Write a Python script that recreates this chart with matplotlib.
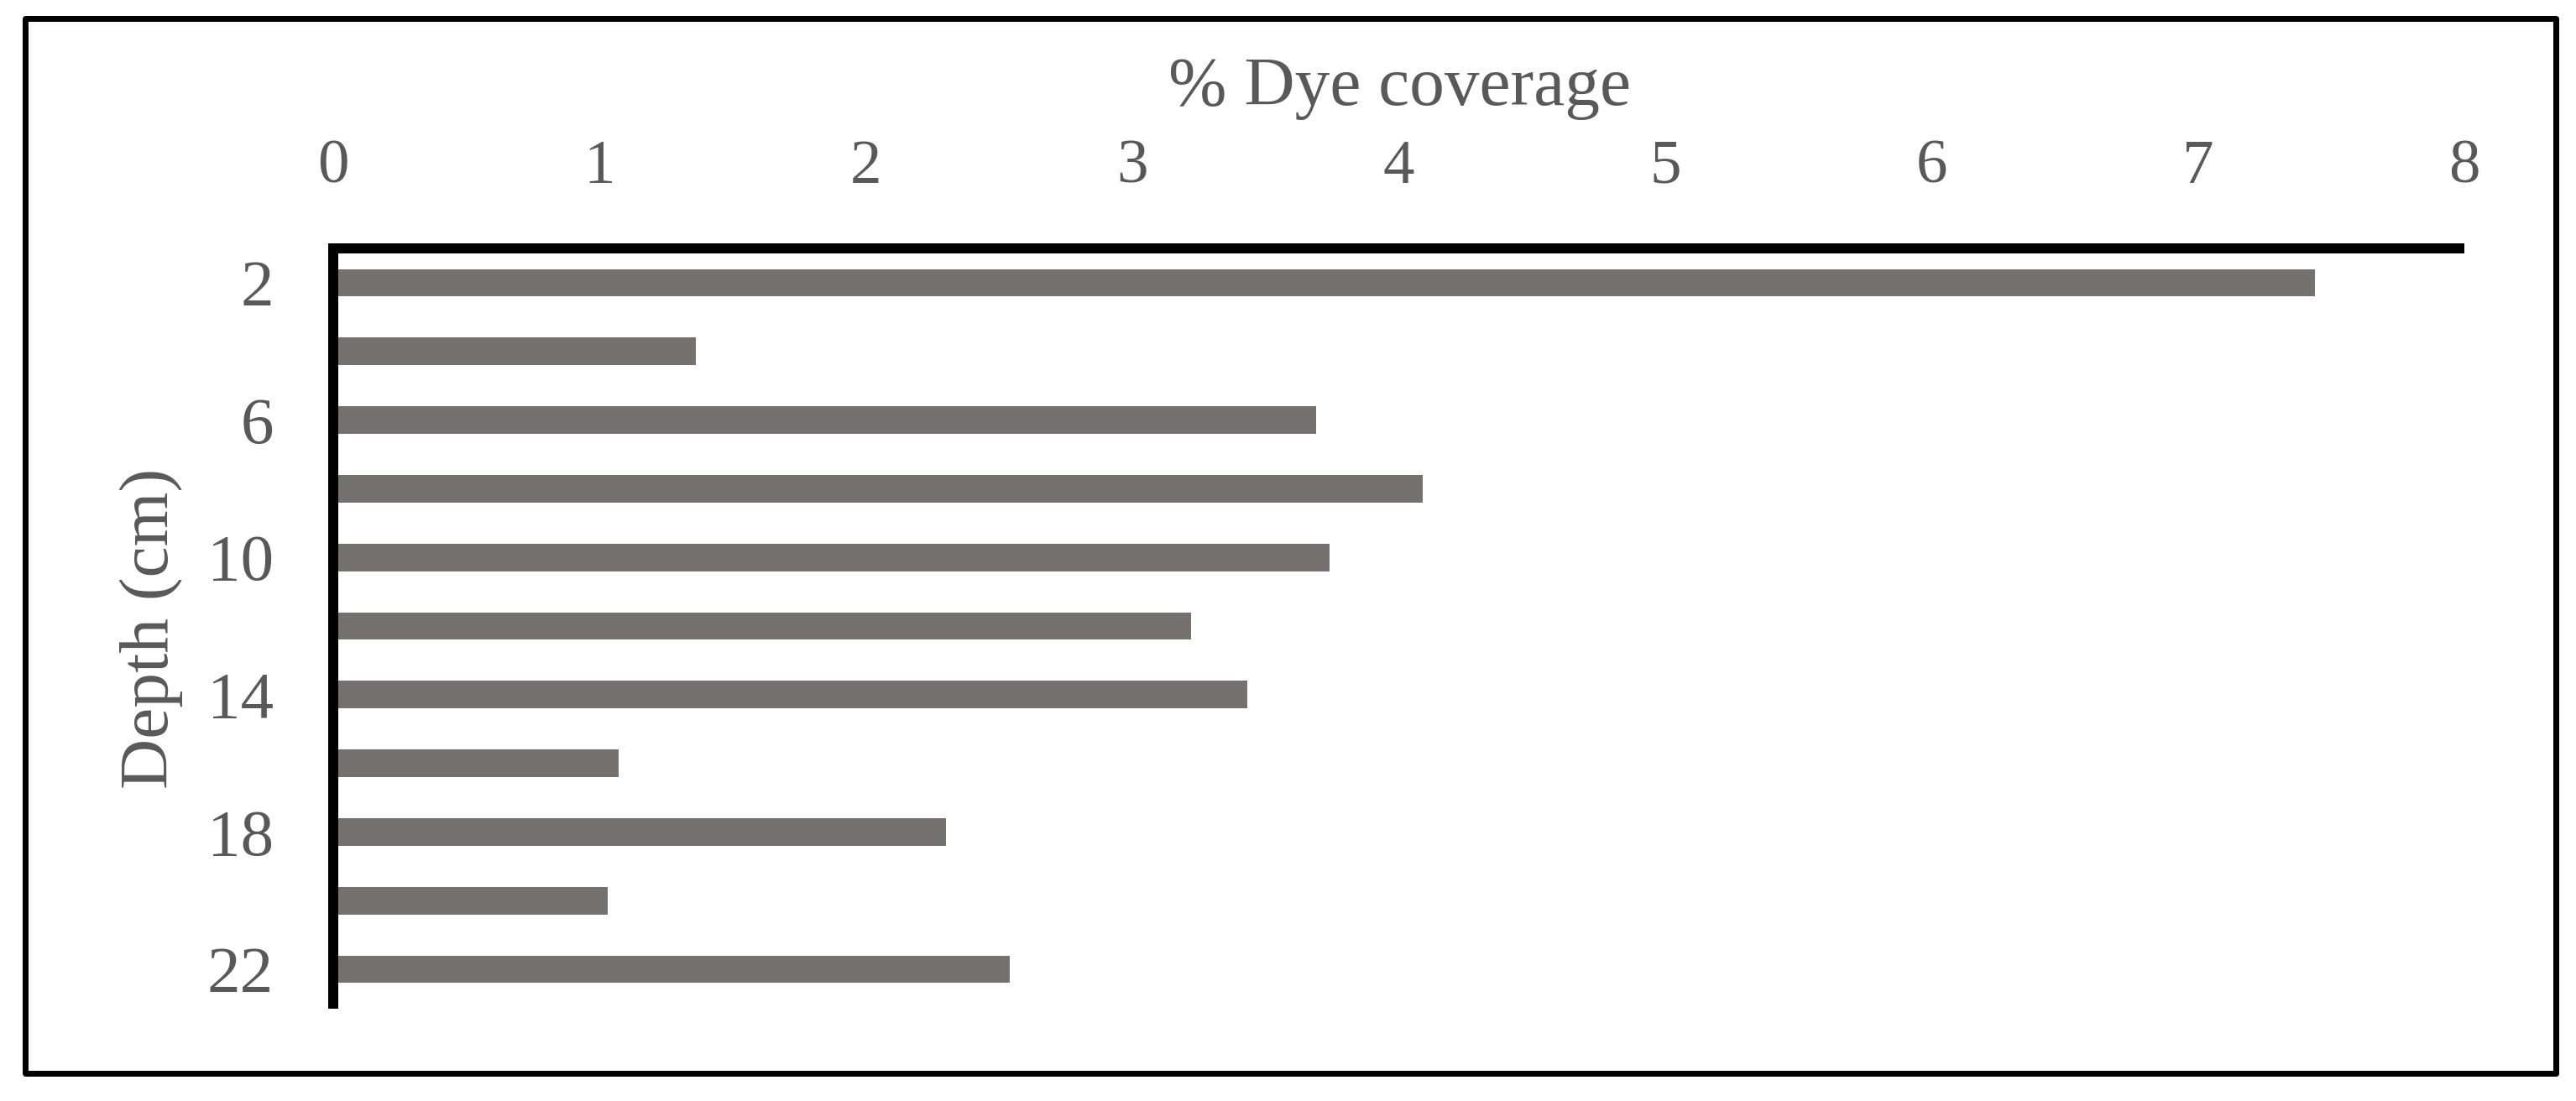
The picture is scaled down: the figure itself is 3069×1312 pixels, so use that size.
import matplotlib
matplotlib.use("Agg")
import matplotlib.pyplot as plt
from matplotlib.patches import Rectangle

depths = [2, 4, 6, 8, 10, 12, 14, 16, 18, 20, 22]
dye_coverage = [7.44, 1.36, 3.69, 4.09, 3.74, 3.22, 3.43, 1.07, 2.30, 1.03, 2.54]
x_ticks = [0, 1, 2, 3, 4, 5, 6, 7, 8]
y_tick_labels = [2, 6, 10, 14, 18, 22]

W, H, DPI = 3069, 1312, 300
TEXT = "#595959"
BAR = "#767171"
plt.rcParams["font.family"] = ["Liberation Serif", "DejaVu Serif"]

fig = plt.figure(figsize=(W / DPI, H / DPI), dpi=DPI)
fig.patch.set_facecolor("white")

left, right, top, bottom = 397, 2936, 296, 1196
ax = fig.add_axes([left / W, 1 - bottom / H, (right - left) / W, (bottom - top) / H])
ax.barh(depths, dye_coverage, height=0.8, color=BAR, zorder=2)
ax.set_xlim(0, 8)
ax.set_ylim(23, 1)
ax.xaxis.tick_top()
ax.set_xticks(x_ticks)
ax.set_xticklabels([str(v) for v in x_ticks])
ax.set_yticks(y_tick_labels)
ax.set_yticklabels([str(v) for v in y_tick_labels])
ax.tick_params(axis="x", length=0, pad=15, labelsize=18, labelcolor=TEXT)
ax.tick_params(axis="y", length=0, pad=17, labelsize=19, labelcolor=TEXT)
for s in ["right", "bottom"]:
    ax.spines[s].set_visible(False)
for s in ["top", "left"]:
    ax.spines[s].set_linewidth(12 * 72 / DPI)
    ax.spines[s].set_color("black")
ax.spines["left"].set_capstyle("projecting")
ax.spines["top"].set_capstyle("butt")

fig.text(1667 / W, 1 - 125 / H, "% Dye coverage", ha="center", va="baseline",
         fontsize=20, color=TEXT)
fig.text(180 / W, 1 - 749 / H, "Depth (cm)", ha="center", va="center",
         rotation=90, fontsize=20, color=TEXT)

frame = Rectangle((29.5 / W, 1 - 1279 / H), (3045 - 29.5) / W, (1279 - 22) / H,
                  transform=fig.transFigure, fill=False, edgecolor="black",
                  linewidth=7 * 72 / DPI, joinstyle="round")
fig.patches.append(frame)

fig.savefig("out.png", dpi=DPI, facecolor="white")
